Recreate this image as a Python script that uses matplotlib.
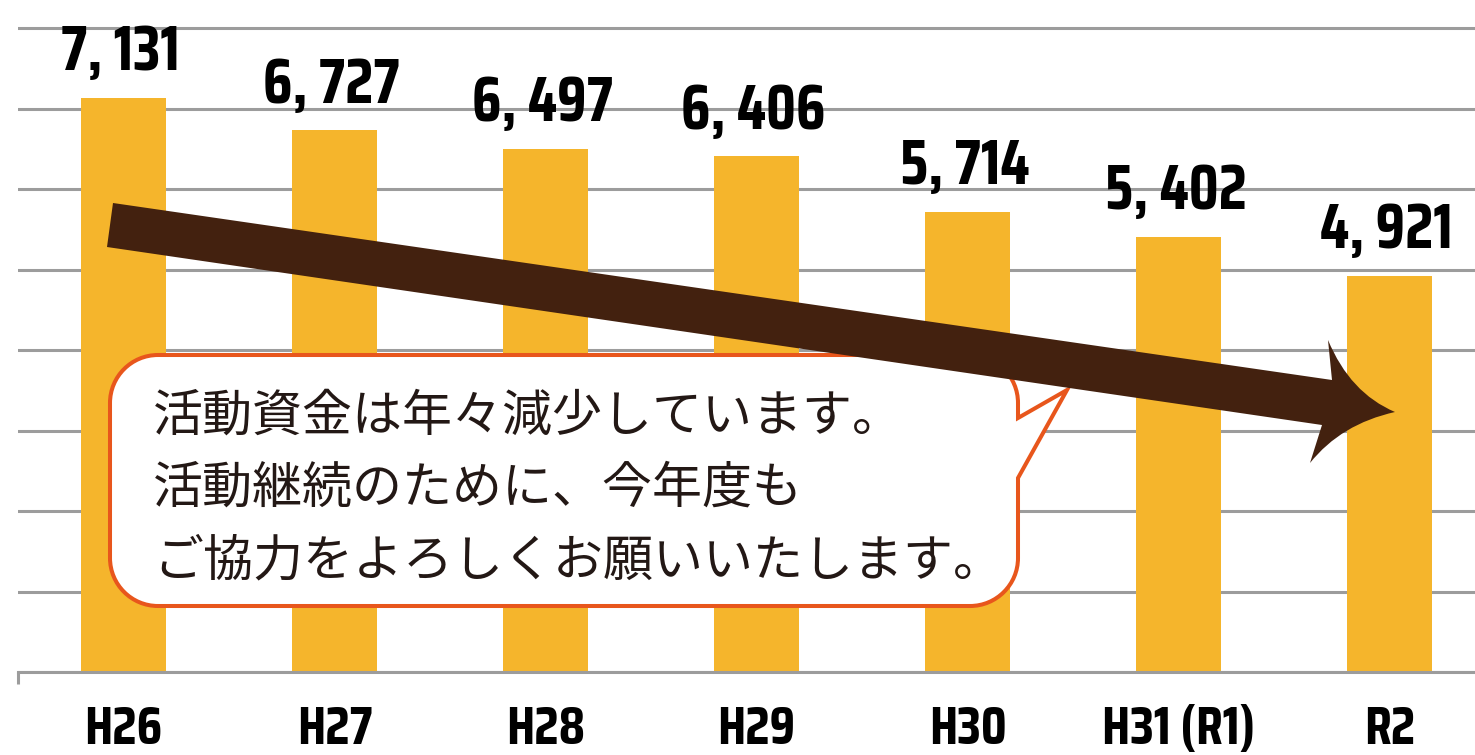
import matplotlib
matplotlib.use("Agg")
import matplotlib.pyplot as plt
from matplotlib import font_manager as fm
from matplotlib.path import Path
from matplotlib.patches import PathPatch

# ---------------- data ----------------
years = ["H26", "H27", "H28", "H29", "H30", "H31 (R1)", "R2"]
funds = [7131, 6727, 6497, 6406, 5714, 5402, 4921]
grid_ticks = [0, 1000, 2000, 3000, 4000, 5000, 6000, 7000, 8000]
message_lines = [
    "活動資金は年々減少しています。",
    "活動継続のために、今年度も",
    "ご協力をよろしくお願いいたします。",
]

# ---------------- fonts ----------------
available = {f.name for f in fm.fontManager.ttflist}
num_font = "DejaVu Sans"
num_scale = 0.62
for cand, sc in [("Saira Condensed", 1.0), ("Barlow Condensed", 0.85),
                 ("Roboto Condensed", 0.8), ("IBM Plex Sans Condensed", 0.8)]:
    if cand in available:
        num_font, num_scale = cand, sc
        break
num_family = [num_font, "DejaVu Sans"]
jp_family = ["Noto Sans CJK JP", "DejaVu Sans"]

BAR = "#F5B52C"
GRID = "#9C9C9C"
ARROW = "#43210F"
ORANGE = "#E8561C"
TEXT = "#231815"

W, H = 1475, 755
fig = plt.figure(figsize=(W / 100, H / 100), dpi=100)
fig.patch.set_facecolor("white")
ax = fig.add_axes([18 / W, (H - 672) / H, 1 - 18 / W, 672 / H])

x = list(range(len(years)))
ax.bar(x, funds, width=0.405, color=BAR, zorder=2)

ax.set_xlim(-0.5, 6.405)
ax.set_ylim(0, 8348)
ax.set_yticks(grid_ticks)
ax.set_yticklabels([])
ax.tick_params(axis="y", length=0)
ax.grid(axis="y", color=GRID, linewidth=2.2, zorder=0)
ax.set_axisbelow(True)
for s in ["top", "right", "left"]:
    ax.spines[s].set_visible(False)
ax.spines["bottom"].set_color(GRID)
ax.spines["bottom"].set_linewidth(2.2)

ax.set_xticks(x)
ax.set_xticklabels(years)
ax.tick_params(axis="x", which="major", length=0, pad=52)
for lbl in ax.get_xticklabels():
    lbl.set_fontfamily(num_family)
    lbl.set_fontweight("bold")
    lbl.set_fontsize(39 * num_scale)
    lbl.set_va("baseline")
    lbl.set_color("black")
ax.set_xticks([-0.5], minor=True)
ax.tick_params(axis="x", which="minor", length=8.6, width=2.2, color=GRID)

# value labels
for xi, v in zip(x, funds):
    ax.annotate(f"{v:,}".replace(",", ", "), (xi, v), xytext=(-2, 20),
                textcoords="offset points", ha="center", va="baseline",
                fontsize=45 * num_scale, fontweight="bold", family=num_family,
                color="black", zorder=4)


def fpath(points, codes):
    verts = [(px / W, 1 - py / H) for px, py in points]
    return Path(verts, codes)


# ---------------- callout box ----------------
L, R, T, B, r = 110, 1018, 355, 606, 48
k = 0.5523 * r
pts = [
    (L + r, T), (R - r, T),
    (R - r + k, T), (R, T + r - k), (R, T + r),
    (R, 418), (1067, 390), (R, 478),
    (R, B - r),
    (R, B - r + k), (R - r + k, B), (R - r, B),
    (L + r, B),
    (L + r - k, B), (L, B - r + k), (L, B - r),
    (L, T + r),
    (L, T + r - k), (L + r - k, T), (L + r, T),
    (L + r, T),
]
codes = [Path.MOVETO, Path.LINETO,
         Path.CURVE4, Path.CURVE4, Path.CURVE4,
         Path.LINETO, Path.LINETO, Path.LINETO,
         Path.LINETO,
         Path.CURVE4, Path.CURVE4, Path.CURVE4,
         Path.LINETO,
         Path.CURVE4, Path.CURVE4, Path.CURVE4,
         Path.LINETO,
         Path.CURVE4, Path.CURVE4, Path.CURVE4,
         Path.CLOSEPOLY]
fig.patches.append(PathPatch(fpath(pts, codes), transform=fig.transFigure,
                             facecolor="white", edgecolor=ORANGE,
                             linewidth=2.9, joinstyle="miter", zorder=5))

baselines = [431, 503, 575]
for line, by in zip(message_lines, baselines):
    fig.text(153 / W, 1 - by / H, line, ha="left", va="baseline",
             fontsize=36, family=jp_family, color=TEXT, zorder=6)

# ---------------- trend arrow ----------------
apts = [(113, 203), (1332, 380), (1328, 340),
        (1350, 393), (1395, 412),
        (1341, 424), (1310, 463),
        (1322, 425), (107, 247), (107, 247)]
acodes = [Path.MOVETO, Path.LINETO, Path.LINETO,
          Path.CURVE3, Path.CURVE3,
          Path.CURVE3, Path.CURVE3,
          Path.LINETO, Path.LINETO, Path.CLOSEPOLY]
fig.patches.append(PathPatch(fpath(apts, acodes), transform=fig.transFigure,
                             facecolor=ARROW, edgecolor="none", zorder=7))

fig.savefig("out.png", dpi=100, facecolor="white")
